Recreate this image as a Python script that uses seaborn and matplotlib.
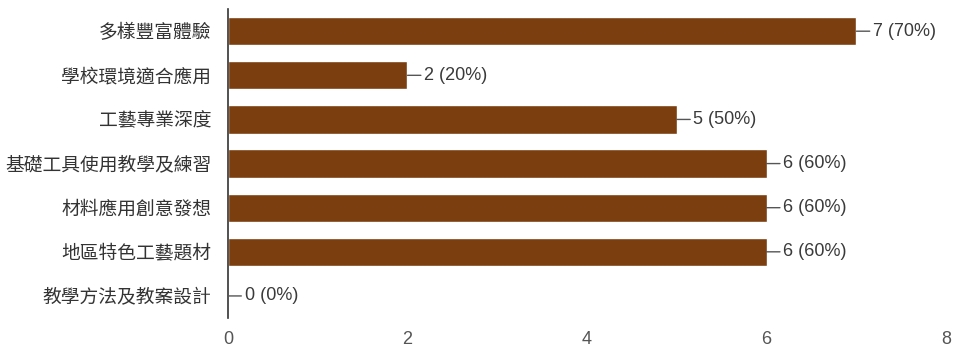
import matplotlib
matplotlib.use("Agg")
import matplotlib.pyplot as plt
import seaborn as sns
import pandas as pd

# 選項與人數
categories = ["多樣豐富體驗", "學校環境適合應用", "工藝專業深度", "基礎工具使用教學及練習",
              "材料應用創意發想", "地區特色工藝題材", "教學方法及教案設計"]
counts = [7, 2, 5, 6, 6, 6, 0]
percents = [70, 20, 50, 60, 60, 60, 0]
xticks = [0, 2, 4, 6, 8]

sns.set_style("white")
plt.rcParams['font.family'] = ['Liberation Sans', 'Noto Sans CJK TC', 'DejaVu Sans']

df = pd.DataFrame({"category": categories, "count": counts})

fig = plt.figure(figsize=(9.55, 3.51), dpi=100)
ax = fig.add_axes([0.2387, 0.094, 0.752, 0.88])
sns.barplot(data=df, x="count", y="category", color="#7a3e0f", saturation=1,
            width=0.64, ax=ax)

for i, (c, p) in enumerate(zip(counts, percents)):
    ax.annotate(f"{c} ({p}%)", xy=(c, i), xytext=(12, 0), textcoords="offset points",
                va="center", ha="left", fontsize=13, color="#3a3a3a",
                arrowprops=dict(arrowstyle="-", color="#555555", lw=1,
                                shrinkA=0, shrinkB=0))

ax.set_xlim(0, 8)
ax.set_ylim(6.5, -0.5)
ax.set_xticks(xticks)
ax.set_xlabel("")
ax.set_ylabel("")
ax.tick_params(axis="x", length=0, labelsize=13, labelcolor="#555555", pad=9)
ax.tick_params(axis="y", length=0, labelsize=13.5, labelcolor="#333333", pad=12)
for s in ["top", "right", "bottom"]:
    ax.spines[s].set_visible(False)
ax.spines["left"].set_color("#333333")
ax.spines["left"].set_linewidth(1.2)

fig.savefig("out.png", dpi=100)
